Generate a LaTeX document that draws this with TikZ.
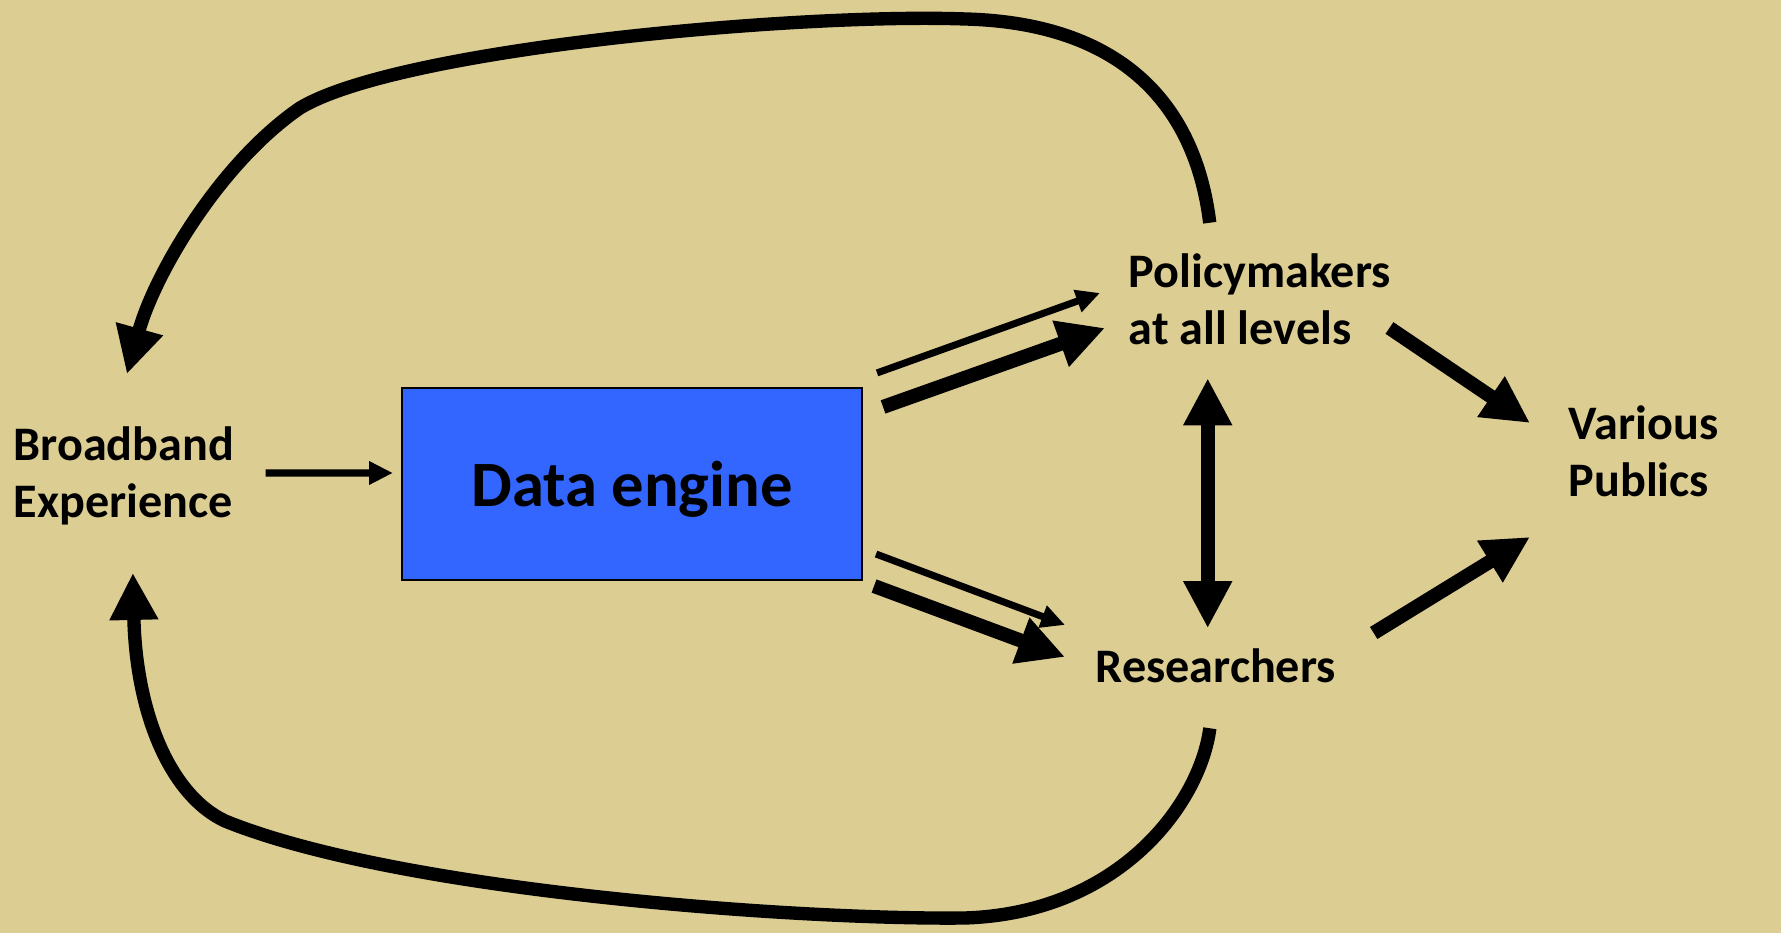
\documentclass[tikz,border=0pt]{standalone}
\usepackage{fontspec}
\setmainfont{Carlito}
\usetikzlibrary{arrows.meta}
\definecolor{bgtan}{RGB}{220,205,147}
\definecolor{engblue}{RGB}{51,102,255}
\begin{document}
\begin{tikzpicture}[>={Triangle[length=13.4pt,width=13pt]},
  lbl/.style={inner sep=0pt, align=left, anchor=west, font=\fontsize{13.7}{16.2}\selectfont\bfseries},
  thinarr/.style={line width=2pt, -{Triangle[length=6.8pt,width=6.3pt]}},
  thickarr/.style={line width=4pt, ->},
  looparr/.style={line width=3.8pt, ->}]
\path[use as bounding box] (0,0) rectangle (17.81,9.33);
\fill[bgtan] (0,0) rectangle (17.81,9.33);
\node[draw, line width=0.6pt, fill=engblue, minimum width=4.6cm, minimum height=1.92cm, text depth=0pt,
  font=\fontsize{18.4}{22}\selectfont\bfseries] (engine) at (6.32,4.49) {Data engine};
\node[lbl] (bb) at (0.13,4.57) {Broadband\\Experience};
\node[lbl] (policy) at (11.28,6.34) {Policymakers\\at all levels};
\node[lbl] (res) at (10.95,2.675) {Researchers};
\node[lbl] (pub) at (15.68,4.815) {Various\\Publics};
\draw[thinarr] ([shift={(0.31,0.03)}]bb.east) -- ([shift={(-0.08,0.11)}]engine.west);
\draw[thinarr] ([shift={(0.14,0.14)}]engine.north east) -- ([shift={(-0.28,0.06)}]policy.west);
\draw[thickarr] ([shift={(0.20,-0.20)}]engine.north east) -- ([shift={(-0.23,-0.29)}]policy.west);
\draw[thinarr] ([shift={(0.13,0.27)}]engine.south east) -- ([shift={(-0.30,0.405)}]res.west);
\draw[thickarr] ([shift={(0.11,-0.05)}]engine.south east) -- ([shift={(-0.30,0.085)}]res.west);
\draw[thickarr] ([shift={(-0.02,-0.29)}]policy.east) -- ([shift={(-0.38,0.285)}]pub.west);
\draw[thickarr] ([shift={(0.37,0.325)}]res.east) -- ([shift={(-0.38,-0.855)}]pub.west);
\draw[thickarr,<->] ([shift={(-0.52,-0.33)}]policy.south) -- ++(0,-2.5);
\draw[looparr] ([shift={(-0.50,0.30)}]policy.north) .. controls (11.95,8.3) and (11.2,9.1) .. (9.65,9.14)
  .. controls (8.0,9.2) and (4.0,8.85) .. (3.0,8.25)
  .. controls (2.2,7.7) and (1.55,6.6) .. ([shift={(0.03,0.52)}]bb.north);
\draw[looparr] ([shift={(-0.06,-0.45)}]res.south) .. controls (12.0,1.3) and (11.2,0.2) .. (9.65,0.15)
  .. controls (8.0,0.13) and (4.0,0.41) .. (2.25,1.12)
  .. controls (1.7,1.38) and (1.36,2.2) .. ([shift={(0.09,-0.47)}]bb.south);
\end{tikzpicture}
\end{document}
